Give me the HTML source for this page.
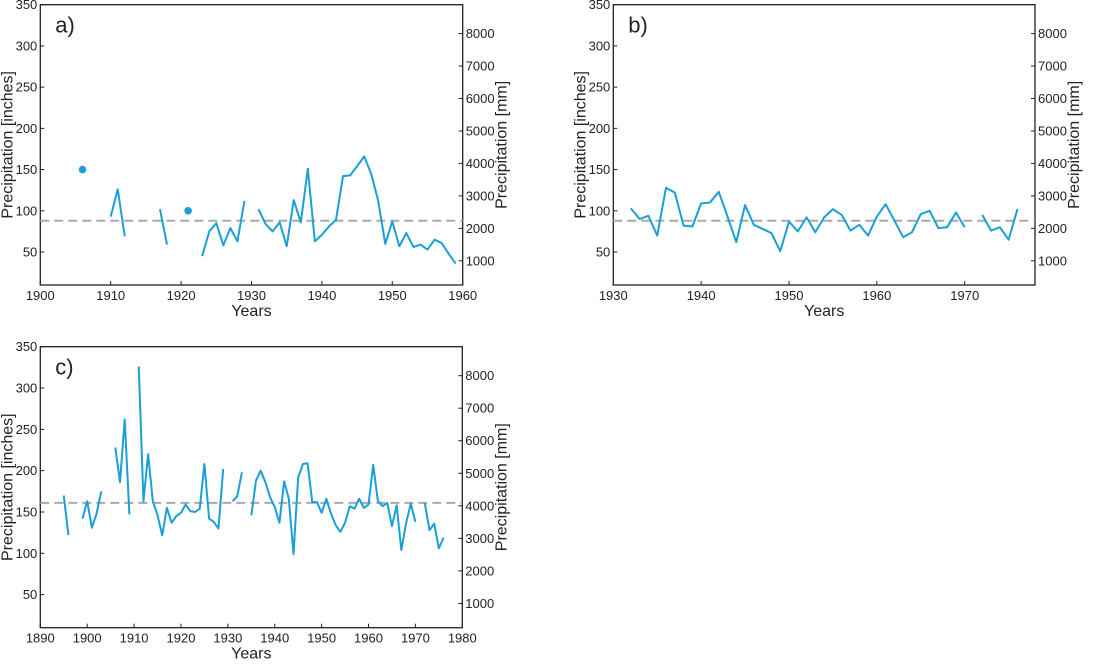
<!DOCTYPE html>
<html><head><meta charset="utf-8"><style>
body{margin:0;background:#fff;width:1120px;height:660px;overflow:hidden;font-family:"Liberation Sans",Arial,sans-serif}
svg text{font-family:"Liberation Sans",Arial,sans-serif;fill:#222}
</style></head><body>
<svg id="chart" width="1120" height="660"></svg>
<script>
const yearsA=[1906,1907,1908,1909,1910,1911,1912,1913,1914,1915,1916,1917,1918,1919,1920,1921,1922,1923,1924,1925,1926,1927,1928,1929,1930,1931,1932,1933,1934,1935,1936,1937,1938,1939,1940,1941,1942,1943,1944,1945,1946,1947,1948,1949,1950,1951,1952,1953,1954,1955,1956,1957,1958,1959];
const valuesA=[150,null,null,null,93,126,69,null,null,null,null,102,59,null,null,100,null,45,75,85,58,79,63,112,null,102,84,75,86,57,113,86,151,63,71,81,89,142,143,154,166,145,112,60,87,57,73,56,59,53,65,61,48,36];
const yearsB=[1932,1933,1934,1935,1936,1937,1938,1939,1940,1941,1942,1943,1944,1945,1946,1947,1948,1949,1950,1951,1952,1953,1954,1955,1956,1957,1958,1959,1960,1961,1962,1963,1964,1965,1966,1967,1968,1969,1970,1971,1972,1973,1974,1975,1976];
const valuesB=[103,90,94,70,128,122,82,81,109,110,123,93,62,107,83,78,73,51,87,75,92,74,92,102,95,76,83,70,93,108,88,68,74,96,100,79,80,98,80,null,95,76,80,65,102];
const yearsC=[1895,1896,1897,1898,1899,1900,1901,1902,1903,1904,1905,1906,1907,1908,1909,1910,1911,1912,1913,1914,1915,1916,1917,1918,1919,1920,1921,1922,1923,1924,1925,1926,1927,1928,1929,1930,1931,1932,1933,1934,1935,1936,1937,1938,1939,1940,1941,1942,1943,1944,1945,1946,1947,1948,1949,1950,1951,1952,1953,1954,1955,1956,1957,1958,1959,1960,1961,1962,1963,1964,1965,1966,1967,1968,1969,1970,1971,1972,1973,1974,1975,1976];
const valuesC=[170,122,null,null,142,163,131,148,175,null,null,228,186,262,147,null,326,163,220,163,146,122,155,137,145,149,159,151,150,154,208,142,138,130,202,null,163,169,198,null,146,188,200,186,168,156,137,187,166,99,192,208,209,162,162,149,166,148,134,126,137,157,154,166,155,159,207,163,157,161,133,158,104,136,160,138,null,161,128,136,106,119];
const meanA=88, meanB=88, meanC=161;
const yTicksIn=[50,100,150,200,250,300,350];
const yTicksMm=[1000,2000,3000,4000,5000,6000,7000,8000];
const xTicksA=[1900,1910,1920,1930,1940,1950,1960];
const xTicksB=[1930,1940,1950,1960,1970];
const xTicksC=[1890,1900,1910,1920,1930,1940,1950,1960,1970,1980];

const svg=document.getElementById('chart');
const NS='http://www.w3.org/2000/svg';
function mk(tag,attrs,parent){const e=document.createElementNS(NS,tag);for(const k in attrs)e.setAttribute(k,attrs[k]);parent.appendChild(e);return e;}

function panel(id,L,R,T,B,x0,x1,years,vals,mean,xt,letter){
  const g=mk('g',{},svg);
  
  
  const yMin=10,yMax=350;
  const X=v=>L+(v-x0)/(x1-x0)*(R-L);
  const Y=v=>B-(v-yMin)/(yMax-yMin)*(B-T);
  const frame=mk('rect',{x:L,y:T,width:R-L,height:B-T,fill:'none',stroke:'#222','stroke-width':1.3},g);
  
  
  yTicksIn.forEach(v=>{
    const y=Y(v);
    mk('line',{x1:L,x2:L+4,y1:y,y2:y,stroke:'#222'},g);
    const t=mk('text',{x:L-3,y:y+4.5,'text-anchor':'end','font-size':13},g);t.textContent=v;
    
    
  });
  yTicksMm.forEach(v=>{
    const y=Y(v/25.4);
    mk('line',{x1:R-4,x2:R,y1:y,y2:y,stroke:'#222'},g);
    const t=mk('text',{x:R+3,y:y+4.5,'font-size':13},g);t.textContent=v;
    
    
  });
  xt.forEach(v=>{
    const x=X(v);
    mk('line',{x1:x,x2:x,y1:B,y2:B-4,stroke:'#222'},g);
    const t=mk('text',{x:x,y:B+15,'text-anchor':'middle','font-size':13},g);t.textContent=v;
    
    
  });
  const ml=mk('line',{x1:L,x2:R,y1:Y(mean),y2:Y(mean),stroke:'#aaa','stroke-width':2,'stroke-dasharray':'9,5'},g);
  
  
  let seg=[];
  const flush=()=>{
    if(seg.length===1){
      const c=mk('circle',{cx:seg[0][0],cy:seg[0][1],r:3.8,fill:'#1a9fd6'},g);
      
      
    } else if(seg.length>1){
      const p=mk('polyline',{points:seg.map(s=>s.join(',')).join(' '),fill:'none',stroke:'#1a9fd6','stroke-width':2,'stroke-linejoin':'round'},g);
      
      
    }
    seg=[];
  };
  years.forEach((yr,i)=>{const v=vals[i];if(v==null)flush();else seg.push([X(yr),Y(v)]);});
  flush();
  const lt=mk('text',{x:L+15,y:T+28,'font-size':22},g);lt.textContent=letter;
  
  
  const xl=mk('text',{x:(L+R)/2,y:B+31,'text-anchor':'middle','font-size':16},g);xl.textContent='Years';
  
  
  const cy=(T+B)/2;
  const yl=mk('text',{x:0,y:0,'text-anchor':'middle','font-size':16,transform:`translate(${L-28},${cy}) rotate(-90)`},g);yl.textContent='Precipitation [inches]';
  
  
  const yr2=mk('text',{x:0,y:0,'text-anchor':'middle','font-size':16,transform:`translate(${R+44},${cy}) rotate(-90)`},g);yr2.textContent='Precipitation [mm]';
  
  
}
panel('a',40.3,462.7,4.7,285,1900,1960,yearsA,valuesA,meanA,xTicksA,'a)');
panel('b',613.3,1035,4.7,285,1930,1978,yearsB,valuesB,meanB,xTicksB,'b)');
panel('c',40.3,462.3,346.7,627.7,1890,1980,yearsC,valuesC,meanC,xTicksC,'c)');
</script>
</body></html>
